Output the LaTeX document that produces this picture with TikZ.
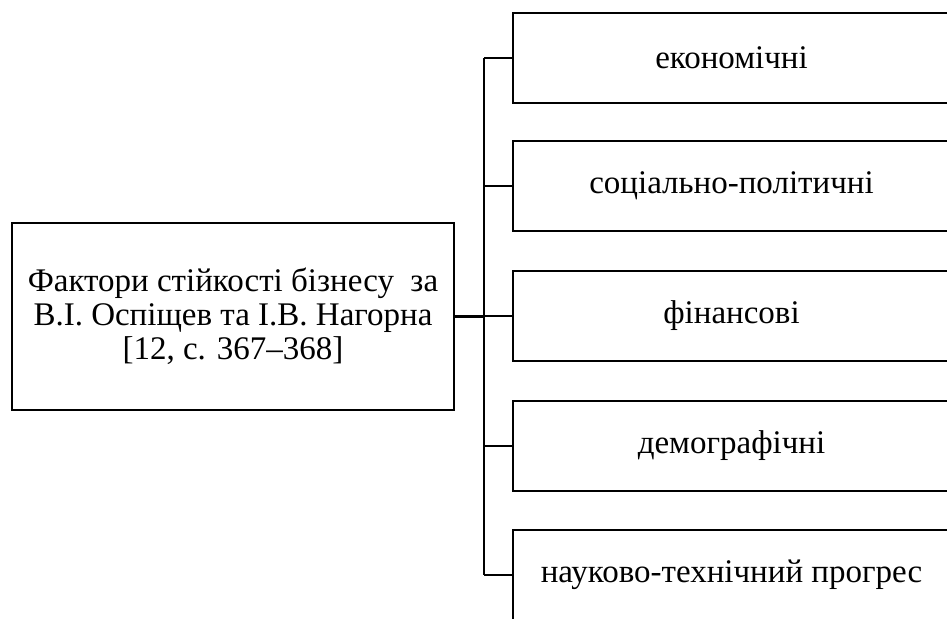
\documentclass[tikz,border=0pt]{standalone}
\usepackage{fontspec}
\setmainfont{Liberation Serif}
\newfontfamily\tnr{Liberation Serif}
\begin{document}
\begin{tikzpicture}[x=1pt,y=-1pt,
  box/.style={draw, line width=2.2pt, inner sep=0pt, align=center,
    font=\tnr\fontsize{33}{34}\selectfont},
  rbox/.style={box, minimum width=437pt, minimum height=90pt},
  conn/.style={draw, line width=2.2pt}]
\clip (0,0) rectangle (947,618);
\node[box, minimum width=442pt, minimum height=187pt] (L) at (233,316.5)
  {Фактори стійкості бізнесу \ за\\В.І. Оспіщев та І.В. Нагорна\\{[}12, с. 367–368{]}};
\node[rbox] (b1) at (731.5,58) {економічні};
\node[rbox] (b2) at (731.5,186) {соціально-політичні};
\node[rbox] (b3) at (731.5,316) {фінансові};
\node[rbox] (b4) at (731.5,446) {демографічні};
\node[rbox] (b5) at (731.5,575) {науково-технічний прогрес};
\coordinate (bus) at (484,317);
\draw[conn] (L.east) -- (bus |- L.east);
\draw[conn] (bus |- b1.west) -- (bus |- b5.west);
\foreach \b in {b1,b2,b3,b4,b5}
  \draw[conn] (bus |- \b.west) -- (\b.west);
\end{tikzpicture}
\end{document}
